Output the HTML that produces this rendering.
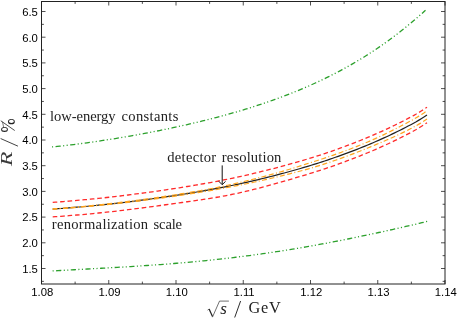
<!DOCTYPE html>
<html><head><meta charset="utf-8"><style>
html,body{margin:0;padding:0;background:#fff;}
svg{display:block;will-change:transform}
.tk text{font-family:"Liberation Sans",sans-serif;font-size:11.3px;fill:#000}
.lb{font-family:"Liberation Serif",serif;fill:#222}
</style></head><body>
<svg width="457" height="319" viewBox="0 0 457 319">
<rect width="457" height="319" fill="#fff"/>
<g fill="none" stroke-linecap="butt" stroke-linejoin="round">
<path d="M52.00 146.57 L54.69 146.30 L57.37 146.01 L60.06 145.72 L62.75 145.42 L65.44 145.11 L68.12 144.80 L70.81 144.48 L73.50 144.15 L76.18 143.81 L78.87 143.46 L81.56 143.11 L84.24 142.76 L86.93 142.39 L89.62 142.02 L92.31 141.64 L94.99 141.25 L97.68 140.86 L100.37 140.46 L103.05 140.06 L105.74 139.65 L108.43 139.23 L111.12 138.81 L113.80 138.38 L116.49 137.94 L119.18 137.50 L121.86 137.05 L124.55 136.60 L127.24 136.13 L129.92 135.67 L132.61 135.19 L135.30 134.71 L137.99 134.23 L140.67 133.74 L143.36 133.24 L146.05 132.73 L148.73 132.22 L151.42 131.71 L154.11 131.18 L156.79 130.65 L159.48 130.12 L162.17 129.57 L164.86 129.02 L167.54 128.47 L170.23 127.90 L172.92 127.33 L175.60 126.75 L178.29 126.17 L180.98 125.58 L183.67 124.98 L186.35 124.37 L189.04 123.76 L191.73 123.13 L194.41 122.50 L197.10 121.86 L199.79 121.22 L202.47 120.56 L205.16 119.90 L207.85 119.23 L210.54 118.55 L213.22 117.86 L215.91 117.16 L218.60 116.45 L221.28 115.73 L223.97 115.00 L226.66 114.26 L229.35 113.52 L232.03 112.76 L234.72 111.99 L237.41 111.21 L240.09 110.42 L242.78 109.62 L245.47 108.80 L248.15 107.98 L250.84 107.14 L253.53 106.29 L256.22 105.42 L258.90 104.55 L261.59 103.66 L264.28 102.76 L266.96 101.84 L269.65 100.91 L272.34 99.97 L275.03 99.01 L277.71 98.03 L280.40 97.04 L283.09 96.04 L285.77 95.02 L288.46 93.98 L291.15 92.93 L293.83 91.85 L296.52 90.77 L299.21 89.66 L301.90 88.54 L304.58 87.39 L307.27 86.23 L309.96 85.05 L312.64 83.85 L315.33 82.63 L318.02 81.39 L320.71 80.13 L323.39 78.85 L326.08 77.55 L328.77 76.22 L331.45 74.87 L334.14 73.50 L336.83 72.11 L339.51 70.69 L342.20 69.25 L344.89 67.78 L347.58 66.29 L350.26 64.77 L352.95 63.23 L355.64 61.66 L358.32 60.06 L361.01 58.43 L363.70 56.78 L366.38 55.10 L369.07 53.39 L371.76 51.65 L374.45 49.88 L377.13 48.08 L379.82 46.25 L382.51 44.39 L385.19 42.49 L387.88 40.57 L390.57 38.60 L393.26 36.61 L395.94 34.58 L398.63 32.52 L401.32 30.42 L404.00 28.28 L406.69 26.11 L409.38 23.90 L412.06 21.65 L414.75 19.37 L417.44 17.04 L420.13 14.68 L422.81 12.27 L425.50 9.83" transform="translate(0 0.4)" stroke="#2ca02c" stroke-width="1.3" stroke-dasharray="5.2 2.4 1.1 2.4 1.1 2.48" stroke-dashoffset="11.1"/>
<path d="M52.60 270.55 L55.30 270.39 L57.99 270.24 L60.69 270.08 L63.38 269.93 L66.08 269.78 L68.77 269.63 L71.47 269.49 L74.17 269.34 L76.86 269.19 L79.56 269.05 L82.25 268.90 L84.95 268.75 L87.64 268.61 L90.34 268.46 L93.04 268.32 L95.73 268.17 L98.43 268.02 L101.12 267.87 L103.82 267.72 L106.51 267.57 L109.21 267.42 L111.91 267.27 L114.60 267.11 L117.30 266.96 L119.99 266.80 L122.69 266.64 L125.38 266.48 L128.08 266.31 L130.77 266.15 L133.47 265.98 L136.17 265.81 L138.86 265.63 L141.56 265.46 L144.25 265.28 L146.95 265.09 L149.64 264.91 L152.34 264.72 L155.04 264.53 L157.73 264.33 L160.43 264.13 L163.12 263.93 L165.82 263.73 L168.51 263.52 L171.21 263.30 L173.91 263.08 L176.60 262.86 L179.30 262.64 L181.99 262.41 L184.69 262.17 L187.38 261.94 L190.08 261.69 L192.78 261.45 L195.47 261.19 L198.17 260.94 L200.86 260.68 L203.56 260.41 L206.25 260.14 L208.95 259.87 L211.65 259.59 L214.34 259.30 L217.04 259.01 L219.73 258.72 L222.43 258.42 L225.12 258.11 L227.82 257.80 L230.52 257.49 L233.21 257.17 L235.91 256.84 L238.60 256.51 L241.30 256.17 L243.99 255.83 L246.69 255.48 L249.38 255.13 L252.08 254.77 L254.78 254.41 L257.47 254.04 L260.17 253.67 L262.86 253.29 L265.56 252.90 L268.25 252.51 L270.95 252.12 L273.65 251.72 L276.34 251.31 L279.04 250.90 L281.73 250.48 L284.43 250.06 L287.12 249.63 L289.82 249.20 L292.52 248.76 L295.21 248.32 L297.91 247.87 L300.60 247.41 L303.30 246.95 L305.99 246.49 L308.69 246.01 L311.39 245.54 L314.08 245.06 L316.78 244.57 L319.47 244.08 L322.17 243.58 L324.86 243.08 L327.56 242.58 L330.26 242.07 L332.95 241.55 L335.65 241.03 L338.34 240.51 L341.04 239.98 L343.73 239.44 L346.43 238.90 L349.13 238.36 L351.82 237.81 L354.52 237.26 L357.21 236.70 L359.91 236.14 L362.60 235.58 L365.30 235.01 L367.99 234.44 L370.69 233.86 L373.39 233.28 L376.08 232.69 L378.78 232.11 L381.47 231.52 L384.17 230.92 L386.86 230.32 L389.56 229.72 L392.26 229.12 L394.95 228.51 L397.65 227.90 L400.34 227.29 L403.04 226.67 L405.73 226.05 L408.43 225.43 L411.13 224.81 L413.82 224.18 L416.52 223.56 L419.21 222.93 L421.91 222.30 L424.60 221.66 L427.30 221.03" transform="translate(0 0.4)" stroke="#2ca02c" stroke-width="1.3" stroke-dasharray="5.2 2.4 1.1 2.4 1.1 2.45" stroke-dashoffset="11.1"/>
<path d="M52.70 202.35 L55.39 202.16 L58.09 201.97 L60.78 201.77 L63.47 201.57 L66.16 201.36 L68.86 201.14 L71.55 200.92 L74.24 200.69 L76.94 200.46 L79.63 200.22 L82.32 199.97 L85.01 199.72 L87.71 199.47 L90.40 199.20 L93.09 198.94 L95.78 198.67 L98.48 198.39 L101.17 198.11 L103.86 197.82 L106.56 197.52 L109.25 197.23 L111.94 196.92 L114.63 196.61 L117.33 196.30 L120.02 195.98 L122.71 195.66 L125.41 195.33 L128.10 195.00 L130.79 194.66 L133.48 194.32 L136.18 193.97 L138.87 193.61 L141.56 193.26 L144.26 192.90 L146.95 192.53 L149.64 192.16 L152.33 191.78 L155.03 191.40 L157.72 191.02 L160.41 190.63 L163.11 190.23 L165.80 189.83 L168.49 189.43 L171.18 189.02 L173.88 188.61 L176.57 188.20 L179.26 187.78 L181.95 187.35 L184.65 186.92 L187.34 186.49 L190.03 186.04 L192.73 185.60 L195.42 185.15 L198.11 184.69 L200.80 184.22 L203.50 183.75 L206.19 183.27 L208.88 182.79 L211.58 182.29 L214.27 181.79 L216.96 181.28 L219.65 180.76 L222.35 180.24 L225.04 179.70 L227.73 179.15 L230.43 178.60 L233.12 178.04 L235.81 177.46 L238.50 176.88 L241.20 176.29 L243.89 175.69 L246.58 175.08 L249.27 174.46 L251.97 173.83 L254.66 173.20 L257.35 172.56 L260.05 171.90 L262.74 171.24 L265.43 170.58 L268.12 169.90 L270.82 169.21 L273.51 168.52 L276.20 167.82 L278.90 167.11 L281.59 166.39 L284.28 165.66 L286.97 164.92 L289.67 164.18 L292.36 163.42 L295.05 162.66 L297.75 161.88 L300.44 161.10 L303.13 160.30 L305.82 159.50 L308.52 158.68 L311.21 157.85 L313.90 157.01 L316.59 156.16 L319.29 155.29 L321.98 154.42 L324.67 153.53 L327.37 152.63 L330.06 151.71 L332.75 150.79 L335.44 149.85 L338.14 148.89 L340.83 147.92 L343.52 146.94 L346.22 145.94 L348.91 144.93 L351.60 143.90 L354.29 142.86 L356.99 141.81 L359.68 140.73 L362.37 139.64 L365.07 138.54 L367.76 137.42 L370.45 136.28 L373.14 135.12 L375.84 133.95 L378.53 132.76 L381.22 131.56 L383.92 130.33 L386.61 129.09 L389.30 127.82 L391.99 126.54 L394.69 125.24 L397.38 123.92 L400.07 122.58 L402.76 121.22 L405.46 119.84 L408.15 118.44 L410.84 117.02 L413.54 115.57 L416.23 114.05 L418.92 112.45 L421.61 110.79 L424.31 109.05 L427.00 107.23" stroke="#ff2a2a" stroke-width="1.3" stroke-dasharray="4.6 2.855"/>
<path d="M52.70 216.85 L55.39 216.67 L58.09 216.48 L60.78 216.29 L63.47 216.10 L66.16 215.89 L68.86 215.68 L71.55 215.47 L74.24 215.25 L76.94 215.02 L79.63 214.79 L82.32 214.55 L85.01 214.31 L87.71 214.06 L90.40 213.81 L93.09 213.55 L95.78 213.28 L98.48 213.01 L101.17 212.74 L103.86 212.46 L106.56 212.17 L109.25 211.88 L111.94 211.58 L114.63 211.28 L117.33 210.98 L120.02 210.67 L122.71 210.35 L125.41 210.03 L128.10 209.70 L130.79 209.37 L133.48 209.04 L136.18 208.70 L138.87 208.36 L141.56 208.01 L144.26 207.66 L146.95 207.31 L149.64 206.95 L152.33 206.59 L155.03 206.23 L157.72 205.86 L160.41 205.49 L163.11 205.12 L165.80 204.75 L168.49 204.38 L171.18 204.00 L173.88 203.63 L176.57 203.25 L179.26 202.87 L181.95 202.50 L184.65 202.12 L187.34 201.74 L190.03 201.36 L192.73 200.97 L195.42 200.58 L198.11 200.19 L200.80 199.79 L203.50 199.39 L206.19 198.98 L208.88 198.56 L211.58 198.13 L214.27 197.70 L216.96 197.24 L219.65 196.78 L222.35 196.30 L225.04 195.80 L227.73 195.29 L230.43 194.76 L233.12 194.22 L235.81 193.65 L238.50 193.07 L241.20 192.47 L243.89 191.85 L246.58 191.22 L249.27 190.57 L251.97 189.91 L254.66 189.23 L257.35 188.54 L260.05 187.84 L262.74 187.13 L265.43 186.40 L268.12 185.67 L270.82 184.93 L273.51 184.19 L276.20 183.44 L278.90 182.68 L281.59 181.91 L284.28 181.14 L286.97 180.37 L289.67 179.59 L292.36 178.80 L295.05 178.01 L297.75 177.21 L300.44 176.40 L303.13 175.59 L305.82 174.77 L308.52 173.94 L311.21 173.11 L313.90 172.26 L316.59 171.41 L319.29 170.54 L321.98 169.67 L324.67 168.78 L327.37 167.88 L330.06 166.97 L332.75 166.05 L335.44 165.11 L338.14 164.16 L340.83 163.20 L343.52 162.22 L346.22 161.23 L348.91 160.22 L351.60 159.20 L354.29 158.17 L356.99 157.12 L359.68 156.05 L362.37 154.97 L365.07 153.87 L367.76 152.76 L370.45 151.63 L373.14 150.48 L375.84 149.32 L378.53 148.13 L381.22 146.93 L383.92 145.71 L386.61 144.48 L389.30 143.22 L391.99 141.95 L394.69 140.66 L397.38 139.34 L400.07 138.01 L402.76 136.66 L405.46 135.28 L408.15 133.89 L410.84 132.48 L413.54 131.03 L416.23 129.52 L418.92 127.93 L421.61 126.27 L424.31 124.54 L427.00 122.73" stroke="#ff2a2a" stroke-width="1.3" stroke-dasharray="4.6 2.855"/>
<path d="M52.70 209.05 L55.39 208.87 L58.09 208.68 L60.78 208.49 L63.47 208.30 L66.16 208.09 L68.86 207.88 L71.55 207.67 L74.24 207.45 L76.94 207.22 L79.63 206.99 L82.32 206.75 L85.01 206.51 L87.71 206.26 L90.40 206.01 L93.09 205.75 L95.78 205.48 L98.48 205.21 L101.17 204.94 L103.86 204.66 L106.56 204.37 L109.25 204.08 L111.94 203.78 L114.63 203.48 L117.33 203.18 L120.02 202.86 L122.71 202.55 L125.41 202.23 L128.10 201.90 L130.79 201.57 L133.48 201.23 L136.18 200.89 L138.87 200.55 L141.56 200.20 L144.26 199.84 L146.95 199.48 L149.64 199.12 L152.33 198.75 L155.03 198.38 L157.72 198.00 L160.41 197.62 L163.11 197.23 L165.80 196.84 L168.49 196.44 L171.18 196.04 L173.88 195.64 L176.57 195.23 L179.26 194.82 L181.95 194.40 L184.65 193.97 L187.34 193.55 L190.03 193.11 L192.73 192.67 L195.42 192.23 L198.11 191.78 L200.80 191.32 L203.50 190.86 L206.19 190.38 L208.88 189.91 L211.58 189.42 L214.27 188.92 L216.96 188.42 L219.65 187.91 L222.35 187.39 L225.04 186.86 L227.73 186.32 L230.43 185.77 L233.12 185.22 L235.81 184.65 L238.50 184.08 L241.20 183.49 L243.89 182.90 L246.58 182.30 L249.27 181.69 L251.97 181.07 L254.66 180.44 L257.35 179.80 L260.05 179.16 L262.74 178.51 L265.43 177.84 L268.12 177.17 L270.82 176.50 L273.51 175.81 L276.20 175.12 L278.90 174.41 L281.59 173.70 L284.28 172.98 L286.97 172.25 L289.67 171.51 L292.36 170.76 L295.05 170.01 L297.75 169.24 L300.44 168.46 L303.13 167.67 L305.82 166.87 L308.52 166.06 L311.21 165.24 L313.90 164.41 L316.59 163.56 L319.29 162.71 L321.98 161.84 L324.67 160.96 L327.37 160.06 L330.06 159.15 L332.75 158.23 L335.44 157.30 L338.14 156.35 L340.83 155.39 L343.52 154.42 L346.22 153.43 L348.91 152.42 L351.60 151.40 L354.29 150.37 L356.99 149.32 L359.68 148.25 L362.37 147.17 L365.07 146.07 L367.76 144.96 L370.45 143.83 L373.14 142.68 L375.84 141.52 L378.53 140.33 L381.22 139.13 L383.92 137.91 L386.61 136.68 L389.30 135.42 L391.99 134.15 L394.69 132.86 L397.38 131.54 L400.07 130.21 L402.76 128.86 L405.46 127.48 L408.15 126.09 L410.84 124.68 L413.54 123.23 L416.23 121.72 L418.92 120.13 L421.61 118.47 L424.31 116.74 L427.00 114.93" stroke="#222" stroke-width="1.2"/>
<path d="M52.70 208.90 L55.39 208.71 L58.09 208.52 L60.78 208.32 L63.47 208.11 L66.16 207.90 L68.86 207.68 L71.55 207.46 L74.24 207.23 L76.94 206.99 L79.63 206.75 L82.32 206.51 L85.01 206.25 L87.71 205.99 L90.40 205.73 L93.09 205.46 L95.78 205.18 L98.48 204.90 L101.17 204.62 L103.86 204.32 L106.56 204.03 L109.25 203.72 L111.94 203.42 L114.63 203.10 L117.33 202.78 L120.02 202.46 L122.71 202.13 L125.41 201.80 L128.10 201.46 L130.79 201.11 L133.48 200.77 L136.18 200.41 L138.87 200.05 L141.56 199.69 L144.26 199.32 L146.95 198.95 L149.64 198.57 L152.33 198.19 L155.03 197.80 L157.72 197.41 L160.41 197.01 L163.11 196.61 L165.80 196.21 L168.49 195.80 L171.18 195.39 L173.88 194.97 L176.57 194.55 L179.26 194.12 L181.95 193.69 L184.65 193.25 L187.34 192.81 L190.03 192.36 L192.73 191.90 L195.42 191.44 L198.11 190.97 L200.80 190.50 L203.50 190.01 L206.19 189.52 L208.88 189.02 L211.58 188.51 L214.27 188.00 L216.96 187.47 L219.65 186.93 L222.35 186.39 L225.04 185.83 L227.73 185.25 L230.43 184.66 L233.12 184.05 L235.81 183.44 L238.50 182.81 L241.20 182.17 L243.89 181.52 L246.58 180.86 L249.27 180.20 L251.97 179.53 L254.66 178.85 L257.35 178.16 L260.05 177.47 L262.74 176.76 L265.43 176.05 L268.12 175.32 L270.82 174.59 L273.51 173.85 L276.20 173.10 L278.90 172.34 L281.59 171.58 L284.28 170.80 L286.97 170.01 L289.67 169.22 L292.36 168.41 L295.05 167.58 L297.75 166.74 L300.44 165.89 L303.13 165.03 L305.82 164.17 L308.52 163.30 L311.21 162.43 L313.90 161.57 L316.59 160.70 L319.29 159.83 L321.98 158.95 L324.67 158.06 L327.37 157.16 L330.06 156.25 L332.75 155.32 L335.44 154.38 L338.14 153.43 L340.83 152.46 L343.52 151.48 L346.22 150.49 L348.91 149.48 L351.60 148.45 L354.29 147.41 L356.99 146.35 L359.68 145.28 L362.37 144.18 L365.07 143.07 L367.76 141.94 L370.45 140.78 L373.14 139.59 L375.84 138.37 L378.53 137.14 L381.22 135.88 L383.92 134.59 L386.61 133.29 L389.30 131.96 L391.99 130.62 L394.69 129.26 L397.38 127.88 L400.07 126.49 L402.76 125.08 L405.46 123.66 L408.15 122.22 L410.84 120.77 L413.54 119.29 L416.23 117.74 L418.92 116.12 L421.61 114.43 L424.31 112.67 L427.00 110.83" stroke="#ffa51e" stroke-width="1.2" stroke-dasharray="5.0 2.6 5.0 2.35 1.0 2.34" stroke-dashoffset="8.0"/>
<path d="M52.70 209.20 L55.39 209.03 L58.09 208.85 L60.78 208.67 L63.47 208.48 L66.16 208.28 L68.86 208.08 L71.55 207.88 L74.24 207.67 L76.94 207.45 L79.63 207.23 L82.32 207.00 L85.01 206.77 L87.71 206.53 L90.40 206.28 L93.09 206.03 L95.78 205.78 L98.48 205.52 L101.17 205.26 L103.86 204.99 L106.56 204.71 L109.25 204.43 L111.94 204.15 L114.63 203.86 L117.33 203.57 L120.02 203.27 L122.71 202.96 L125.41 202.66 L128.10 202.34 L130.79 202.02 L133.48 201.70 L136.18 201.37 L138.87 201.04 L141.56 200.70 L144.26 200.36 L146.95 200.02 L149.64 199.66 L152.33 199.31 L155.03 198.95 L157.72 198.59 L160.41 198.22 L163.11 197.84 L165.80 197.47 L168.49 197.09 L171.18 196.70 L173.88 196.31 L176.57 195.91 L179.26 195.51 L181.95 195.11 L184.65 194.70 L187.34 194.29 L190.03 193.87 L192.73 193.45 L195.42 193.02 L198.11 192.58 L200.80 192.14 L203.50 191.70 L206.19 191.25 L208.88 190.79 L211.58 190.32 L214.27 189.85 L216.96 189.37 L219.65 188.89 L222.35 188.39 L225.04 187.90 L227.73 187.40 L230.43 186.89 L233.12 186.38 L235.81 185.87 L238.50 185.35 L241.20 184.82 L243.89 184.28 L246.58 183.73 L249.27 183.17 L251.97 182.61 L254.66 182.03 L257.35 181.44 L260.05 180.85 L262.74 180.25 L265.43 179.64 L268.12 179.03 L270.82 178.40 L273.51 177.77 L276.20 177.13 L278.90 176.48 L281.59 175.83 L284.28 175.16 L286.97 174.49 L289.67 173.81 L292.36 173.12 L295.05 172.43 L297.75 171.73 L300.44 171.03 L303.13 170.31 L305.82 169.58 L308.52 168.83 L311.21 168.05 L313.90 167.25 L316.59 166.42 L319.29 165.58 L321.98 164.72 L324.67 163.85 L327.37 162.96 L330.06 162.06 L332.75 161.15 L335.44 160.22 L338.14 159.28 L340.83 158.32 L343.52 157.35 L346.22 156.37 L348.91 155.37 L351.60 154.35 L354.29 153.33 L356.99 152.28 L359.68 151.23 L362.37 150.16 L365.07 149.07 L367.76 147.98 L370.45 146.88 L373.14 145.77 L375.84 144.66 L378.53 143.53 L381.22 142.39 L383.92 141.24 L386.61 140.07 L389.30 138.88 L391.99 137.68 L394.69 136.45 L397.38 135.20 L400.07 133.93 L402.76 132.63 L405.46 131.31 L408.15 129.96 L410.84 128.58 L413.54 127.17 L416.23 125.70 L418.92 124.14 L421.61 122.52 L424.31 120.81 L427.00 119.03" stroke="#ffa51e" stroke-width="1.2" stroke-dasharray="5.0 2.6 5.0 2.35 1.0 2.34" stroke-dashoffset="8.0"/>
</g>
<rect x="41.5" y="1.5" width="403.5" height="282.5" fill="none" stroke="#222" stroke-width="1"/>
<path d="M41.5 281.35h2.4 M445.0 281.35h-2.4 M41.5 268.50h4.0 M445.0 268.50h-4.0 M41.5 255.65h2.4 M445.0 255.65h-2.4 M41.5 242.80h4.0 M445.0 242.80h-4.0 M41.5 229.95h2.4 M445.0 229.95h-2.4 M41.5 217.10h4.0 M445.0 217.10h-4.0 M41.5 204.25h2.4 M445.0 204.25h-2.4 M41.5 191.40h4.0 M445.0 191.40h-4.0 M41.5 178.55h2.4 M445.0 178.55h-2.4 M41.5 165.70h4.0 M445.0 165.70h-4.0 M41.5 152.85h2.4 M445.0 152.85h-2.4 M41.5 140.00h4.0 M445.0 140.00h-4.0 M41.5 127.15h2.4 M445.0 127.15h-2.4 M41.5 114.30h4.0 M445.0 114.30h-4.0 M41.5 101.45h2.4 M445.0 101.45h-2.4 M41.5 88.60h4.0 M445.0 88.60h-4.0 M41.5 75.75h2.4 M445.0 75.75h-2.4 M41.5 62.90h4.0 M445.0 62.90h-4.0 M41.5 50.05h2.4 M445.0 50.05h-2.4 M41.5 37.20h4.0 M445.0 37.20h-4.0 M41.5 24.35h2.4 M445.0 24.35h-2.4 M41.5 11.50h4.0 M445.0 11.50h-4.0 M41.50 284.0v-4.0 M41.50 1.5v4.0 M75.12 284.0v-2.4 M75.12 1.5v2.4 M108.75 284.0v-4.0 M108.75 1.5v4.0 M142.37 284.0v-2.4 M142.37 1.5v2.4 M176.00 284.0v-4.0 M176.00 1.5v4.0 M209.62 284.0v-2.4 M209.62 1.5v2.4 M243.25 284.0v-4.0 M243.25 1.5v4.0 M276.87 284.0v-2.4 M276.87 1.5v2.4 M310.50 284.0v-4.0 M310.50 1.5v4.0 M344.12 284.0v-2.4 M344.12 1.5v2.4 M377.75 284.0v-4.0 M377.75 1.5v4.0 M411.37 284.0v-2.4 M411.37 1.5v2.4 M445.00 284.0v-4.0 M445.00 1.5v4.0" stroke="#222" stroke-width="0.8" fill="none"/>
<g class="tk">
<text x="37.9" y="272.80" text-anchor="end">1.5</text>
<text x="37.9" y="247.10" text-anchor="end">2.0</text>
<text x="37.9" y="221.40" text-anchor="end">2.5</text>
<text x="37.9" y="195.70" text-anchor="end">3.0</text>
<text x="37.9" y="170.00" text-anchor="end">3.5</text>
<text x="37.9" y="144.30" text-anchor="end">4.0</text>
<text x="37.9" y="118.60" text-anchor="end">4.5</text>
<text x="37.9" y="92.90" text-anchor="end">5.0</text>
<text x="37.9" y="67.20" text-anchor="end">5.5</text>
<text x="37.9" y="41.50" text-anchor="end">6.0</text>
<text x="37.9" y="15.80" text-anchor="end">6.5</text>
<text x="42.30" y="296.1" text-anchor="middle">1.08</text>
<text x="109.55" y="296.1" text-anchor="middle">1.09</text>
<text x="176.80" y="296.1" text-anchor="middle">1.10</text>
<text x="244.05" y="296.1" text-anchor="middle">1.11</text>
<text x="311.30" y="296.1" text-anchor="middle">1.12</text>
<text x="378.55" y="296.1" text-anchor="middle">1.13</text>
<text x="445.80" y="296.1" text-anchor="middle">1.14</text>
</g>
<g class="lb" font-size="14.6">
<text x="50.0" y="121" textLength="65.6" lengthAdjust="spacing">low-energy</text>
<text x="121.5" y="121" textLength="56.9" lengthAdjust="spacing">constants</text>
<text x="167.2" y="161.6" textLength="49.0" lengthAdjust="spacing">detector</text>
<text x="221.8" y="161.6" textLength="59.6" lengthAdjust="spacing">resolution</text>
<text x="51.8" y="229.4" textLength="96.3" lengthAdjust="spacing">renormalization</text>
<text x="153.6" y="229.4" textLength="28.5" lengthAdjust="spacing">scale</text>
</g>
<path d="M222.2 165.4V184.5M218.8 181.3L222.2 184.7L225.6 181.3" stroke="#111" stroke-width="1" fill="none"/>
<g class="lb" transform="translate(12.0 165.9) rotate(-90)">
<text x="0" y="0" font-size="16.8" font-style="italic" fill="#3a3a3a" transform="scale(1.4 1)">R</text>
</g>
<g fill="none" stroke="#222" stroke-linecap="round">
<path d="M17.6 146.0L1.0 138.7" stroke-width="0.85"/>
<path d="M14.4 130.3L1.1 121.0" stroke-width="0.8"/>
<path d="M2.6 122.2L3.6 127.2" stroke-width="0.6"/>
</g>
<g fill="#222" fill-rule="evenodd">
<path d="M8.0 121.7a3.4 2.6 0 1 0 6.8 0a3.4 2.6 0 1 0 -6.8 0ZM8.9 121.3a2.5 1.6 0 1 0 5.0 0a2.5 1.6 0 1 0 -5.0 0Z"/>
<path d="M1.1 129.6a3.4 2.5 0 1 0 6.8 0a3.4 2.5 0 1 0 -6.8 0ZM2.0 129.2a2.5 1.5 0 1 0 5.0 0a2.5 1.5 0 1 0 -5.0 0Z"/>
</g>
<g class="lb">
<path d="M207.5 310.2L209.2 309.0" stroke="#222" stroke-width="0.6" fill="none"/>
<path d="M209.1 309.0L212.5 316.6" stroke="#222" stroke-width="1.25" fill="none"/>
<path d="M212.45 317.2L219.5 301.1H228.9" stroke="#222" stroke-width="0.65" fill="none" stroke-linejoin="miter"/>
<text x="220.3" y="313.6" font-size="17" font-style="italic">s</text>
<path d="M234.7 317.5L240.6 301.0" stroke="#222" stroke-width="0.95" fill="none"/>
<text x="248.6" y="313.3" font-size="16.3" textLength="32.2" lengthAdjust="spacing">GeV</text>
</g>
</svg>
</body></html>
